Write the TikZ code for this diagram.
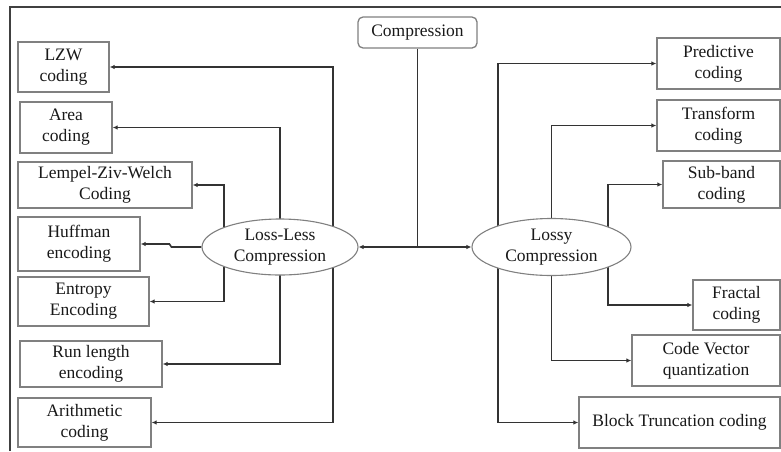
\documentclass[tikz,border=0pt]{standalone}
\usepackage{fontspec}
\setmainfont{Liberation Serif}
\usetikzlibrary{calc,arrows.meta,backgrounds,shapes.geometric}
\begin{document}
\begin{tikzpicture}[x=1pt,y=-1pt,
  every node/.style={font=\fontsize{17.5}{21}\selectfont, text=black!90, align=center, inner sep=0pt},
  box/.style={draw=black!50, line width=1.3pt, fill=white},
  oval/.style={ellipse, draw=black!50, line width=1.1pt, fill=white},
  conn/.style={draw=black!80, line width=1.6pt},
  arr/.style={conn, -{Latex[length=5pt,width=4.5pt]}},
  arrs/.style={conn, {Latex[length=5pt,width=4.5pt]}-{Latex[length=5pt,width=4.5pt]}}]
\useasboundingbox (0,0) rectangle (781,451);
% outer frame (top and left edges)
\draw[black!75, line width=1.4pt] (10,451) -- (10,7) -- (781,7);

% root
\node[box, rounded corners=5pt, minimum width=119pt, minimum height=31pt] (comp) at (417.5,32.5) {Compression};

% the two branches
\node[oval, minimum width=156pt, minimum height=56pt] (ll) at (280,247) {Loss-Less\\Compression};
\node[oval, minimum width=159pt, minimum height=57pt] (ly) at (551.5,247) {Lossy\\Compression};

% lossless methods
\node[box, minimum width=91pt,  minimum height=50pt] (lzw)  at (63.5,67)   {LZW\\coding};
\node[box, minimum width=92pt,  minimum height=51pt] (area) at (66,127.5)  {Area\\coding};
\node[box, minimum width=174pt, minimum height=46pt] (lzwc) at (105,185)   {Lempel-Ziv-Welch\\Coding};
\node[box, minimum width=122pt, minimum height=54pt] (huf)  at (79,244)    {Huffman\\encoding};
\node[box, minimum width=131pt, minimum height=49pt] (ent)  at (83.5,301.5){Entropy\\Encoding};
\node[box, minimum width=142pt, minimum height=46pt] (run)  at (91,364)    {Run length\\encoding};
\node[box, minimum width=133pt, minimum height=49pt] (ari)  at (84.5,422.5){Arithmetic\\coding};

% lossy methods
\node[box, minimum width=123pt, minimum height=51pt] (pred) at (718.5,63.5) {Predictive\\coding};
\node[box, minimum width=123pt, minimum height=51pt] (trf)  at (718.5,125.5){Transform\\coding};
\node[box, minimum width=117pt, minimum height=47pt] (sub)  at (721.5,184.5){Sub-band\\coding};
\node[box, minimum width=87pt,  minimum height=50pt] (frac) at (736.5,305)  {Fractal\\coding};
\node[box, minimum width=148pt, minimum height=51pt] (cvq)  at (706,360.5)  {Code Vector\\quantization};
\node[box, minimum width=201pt, minimum height=51pt] (btc)  at (679.5,422.5){Block Truncation coding};

\begin{scope}[on background layer]
  % root to branches
  \draw[conn] (comp.south) -- (comp.south |- ll.east);
  \draw[arrs] (ll.east) -- (ly.west);

  % loss-less branch
  \draw[arr] ($(ll.center)+(53,0)$) |- (lzw.east);
  \draw[arr] ($(ll.center)+(53,0)$) |- (ari.east);
  \draw[arr] (ll.center) |- (area.east);
  \draw[arr] (ll.center) |- (run.east);
  \draw[arr] ($(ll.center)+(-56,0)$) |- (lzwc.east);
  \draw[arr] ($(ll.center)+(-56,0)$) |- (ent.east);
  \draw[arr] (ll.west) -- ++(-30,0) -- ++(-2,-3) -- (huf.east);

  % lossy branch
  \draw[arr] ($(ly.center)+(-53.5,0)$) |- (pred.west);
  \draw[arr] ($(ly.center)+(-53.5,0)$) |- (btc.west);
  \draw[arr] (ly.center) |- (trf.west);
  \draw[arr] (ly.center) |- (cvq.west);
  \draw[arr] ($(ly.center)+(56.5,0)$) |- (sub.west);
  \draw[arr] ($(ly.center)+(56.5,0)$) |- (frac.west);
\end{scope}
\end{tikzpicture}
\end{document}
